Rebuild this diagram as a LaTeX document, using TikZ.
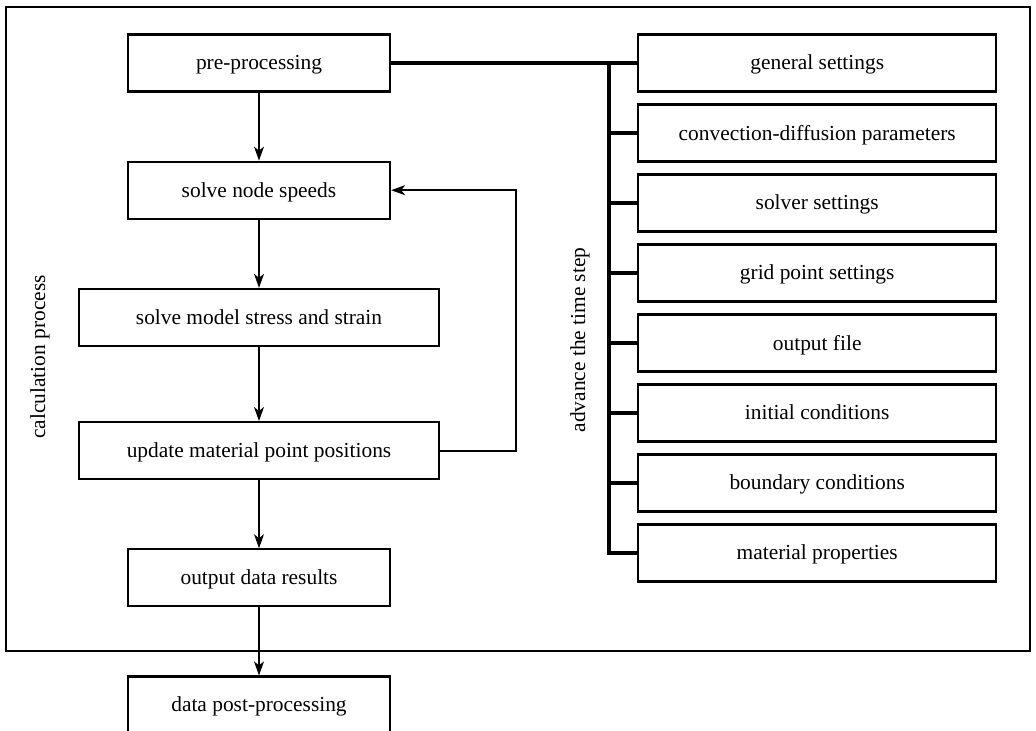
\documentclass[tikz,border=0pt]{standalone}
\usepackage{fontspec}
\setmainfont{Liberation Serif}
\usetikzlibrary{arrows.meta,positioning,calc}

\begin{document}
\begin{tikzpicture}[
  x=0.5pt, y=-0.5pt,
  node distance=34pt and 123pt,
  block/.style={draw, line width=1.1pt, minimum height=28.5pt, minimum width=131pt, align=center, font=\fontsize{10.7}{13}\selectfont, inner sep=2pt, text depth=0.5pt},
  wideblock/.style={block, minimum width=180pt},
  setting/.style={block, minimum width=179pt},
  frame/.style={draw, line width=1pt},
  flow/.style={-{Stealth[length=7pt,width=5pt,inset=2pt]}, line width=0.6pt},
  loopflow/.style={flow, line width=1pt},
  bus/.style={line width=1.7pt},
  side/.style={rotate=90, font=\fontsize{10.7}{13}\selectfont},
]
\useasboundingbox (0,0) rectangle (1036,731);
\clip (0,0) rectangle (1036,731);

% Outer frame
\draw[frame] (6,7) rectangle (1030,651);

% Left column: calculation steps
\node[block] (pre) at (259,63) {pre-processing};
\node[block, below=of pre] (speed) {solve node speeds};
\node[wideblock, below=of speed] (stress) {solve model stress and strain};
\node[wideblock, below=37pt of stress] (update) {update material point positions};
\node[block, below=of update] (out) {output data results};
\node[block, below=of out] (post) {data post-processing};

% Right column: settings
\node[setting, right=of pre] (gen) {general settings};
\node[setting, below=5.4pt of gen] (conv) {convection-diffusion parameters};
\node[setting, below=5.4pt of conv] (solver) {solver settings};
\node[setting, below=5.4pt of solver] (grid) {grid point settings};
\node[setting, below=5.4pt of grid] (file) {output file};
\node[setting, below=5.4pt of file] (init) {initial conditions};
\node[setting, below=5.4pt of init] (bound) {boundary conditions};
\node[setting, below=5.4pt of bound] (mat) {material properties};
\coordinate[right=109pt of pre.east] (bus);

% Side labels
\node[side] (calc) at (40,357) {calculation process};
\node[side] (adv) at (580,340) {advance the time step};

% Main flow
\draw[flow] (pre) -- (speed);
\draw[flow] (speed) -- (stress);
\draw[flow] (stress) -- (update);
\draw[flow] (update) -- (out);
\draw[flow] (out) -- (post);

% Time step loop
\draw[loopflow] (update.east) -- ++(38pt,0) |- (speed.east);

% Settings bus
\draw[bus] (pre.east) -- (gen.west);
\draw[bus] (bus) |- (mat.west);
\draw[bus] (bus |- conv) -- (conv.west);
\draw[bus] (bus |- solver) -- (solver.west);
\draw[bus] (bus |- grid) -- (grid.west);
\draw[bus] (bus |- file) -- (file.west);
\draw[bus] (bus |- init) -- (init.west);
\draw[bus] (bus |- bound) -- (bound.west);

\end{tikzpicture}
\end{document}
